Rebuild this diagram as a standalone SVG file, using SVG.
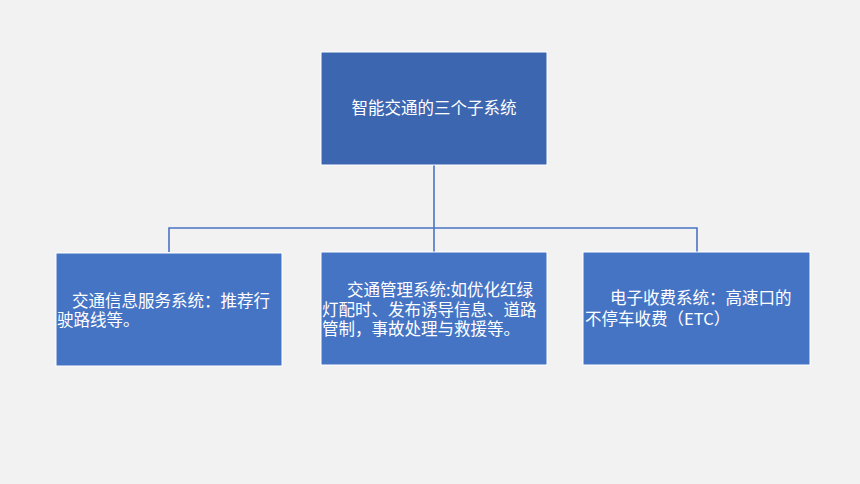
<svg xmlns="http://www.w3.org/2000/svg" width="860" height="484" viewBox="0 0 860 484">
<style>
.box{stroke:#ffffff;stroke-width:1}
.top{fill:#3D66B0}
.sub{fill:#4674C5}
.conn{fill:none;stroke:#4A74C2;stroke-width:1.6}
text{font-family:"Noto Sans CJK SC","Noto Sans",sans-serif;font-size:16.5px;fill:#ffffff}
</style>
<rect x="0" y="0" width="860" height="484" fill="#F2F2F2"/>
<g id="connectors">
<path class="conn" d="M434,165 V228"/>
<path class="conn" d="M169,252 V228 H697 V252"/>
<path class="conn" d="M434,228 V252"/>
</g>
<g id="root">
<rect class="box top" x="321" y="52" width="226" height="113"/>
<text x="434" y="114" text-anchor="middle">智能交通的三个子系统</text>
</g>
<g id="info">
<rect class="box sub" x="56" y="253" width="226" height="113"/>
<text x="72" y="307">交通信息服务系统：推荐行</text>
<text x="57" y="326">驶路线等。</text>
</g>
<g id="manage">
<rect class="box sub" x="321" y="252" width="226" height="113"/>
<text x="347" y="295.5">交通管理系统:如优化红绿</text>
<text x="322" y="315.5">灯配时、发布诱导信息、道路</text>
<text x="322" y="334.5">管制，事故处理与救援等。</text>
</g>
<g id="etc">
<rect class="box sub" x="583" y="252" width="227" height="113"/>
<text x="610" y="304">电子收费系统：高速口的</text>
<text x="585" y="325">不停车收费（ETC）</text>
</g>
</svg>
